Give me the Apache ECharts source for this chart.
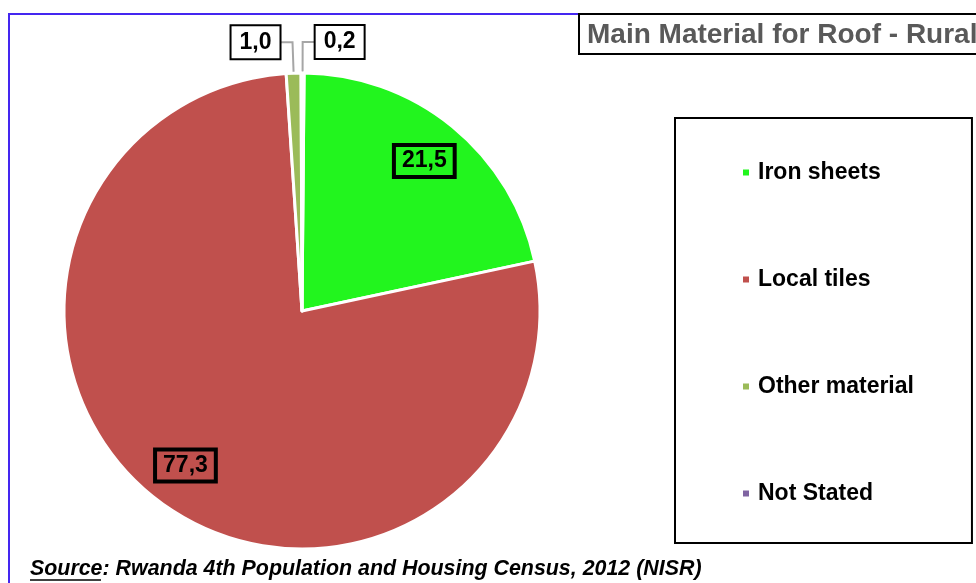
<!DOCTYPE html>
<html>
<head>
<meta charset="utf-8">
<script src="https://cdn.jsdelivr.net/npm/echarts@6/dist/echarts.min.js"></script>
<style>
  html, body { margin: 0; padding: 0; background: #fff; }
  #chart { width: 976px; height: 583px; }
</style>
</head>
<body>
<div id="chart"></div>
<script>
  // data
  const categories = ['Iron sheets', 'Local tiles', 'Other material', 'Not Stated'];
  const values = [21.5, 77.3, 1.0, 0.2];
  const colors = ['#22f51e', '#c0504d', '#9bbb59', '#8064a2'];
  const insideLabels = [true, true, false, false]; // big slices label inside, small outside
  const titleText = 'Main Material for Roof - Rural';
  const sourceLabel = 'Source';
  const sourceText = ': Rwanda 4th Population and Housing Census, 2012 (NISR)';

  const myChart = echarts.init(document.getElementById('chart'));

  const fmt = v => v.toFixed(1).replace('.', ',');
  const center = [302, 311];
  const R = 238;

  let pieData = categories.map((name, i) => ({
    name: name,
    value: values[i],
    itemStyle: { color: colors[i] }
  }));

  // transparent ring only used to place the labels at ~0.8 r
  let labelData = categories.map((name, i) => ({
    name: name,
    value: values[i],
    label: insideLabels[i] ? {
      position: 'inside',
      backgroundColor: 'transparent'
    } : {
      position: 'outside',
      backgroundColor: '#fff'
    },
    labelLine: { show: !insideLabels[i] }
  }));

  let option = {
    backgroundColor: '#fff',
    animation: false,
    title: {
      text: titleText,
      left: 582,
      top: 16,
      textStyle: {
        fontFamily: 'Liberation Sans, Arial',
        fontSize: 28,
        fontWeight: 'bold',
        color: '#595959'
      }
    },
    legend: {
      orient: 'vertical',
      left: 675,
      top: 118,
      padding: [42, 58, 37, 66],
      itemGap: 82,
      itemWidth: 8,
      itemHeight: 8,
      icon: 'rect',
      borderColor: '#000',
      borderWidth: 2,
      selectedMode: false,
      data: categories,
      textStyle: {
        fontFamily: 'Liberation Sans, Arial',
        fontSize: 23,
        fontWeight: 'bold',
        color: '#000',
        lineHeight: 25,
        padding: [0, 0, 0, 3]
      }
    },
    graphic: [
      {
        type: 'rect',
        shape: { x: 9, y: 14, width: 990, height: 600 },
        style: { fill: 'none', stroke: '#4426f0', lineWidth: 2 },
        silent: true
      },
      {
        type: 'rect',
        shape: { x: 579, y: 14, width: 420, height: 40 },
        style: { fill: 'none', stroke: '#000', lineWidth: 2 },
        silent: true,
        z: 10
      },
      {
        type: 'text',
        left: 30,
        top: 559,
        style: {
          text: '{u|' + sourceLabel + '}{n|' + sourceText + '}',
          rich: {
            u: { fontFamily: 'Liberation Sans, Arial', fontSize: 21.4, fontWeight: 'bold', fontStyle: 'italic', fill: '#000' },
            n: { fontFamily: 'Liberation Sans, Arial', fontSize: 21.4, fontWeight: 'bold', fontStyle: 'italic', fill: '#000' }
          }
        }
      },
      {
        type: 'line',
        shape: { x1: 30, y1: 580, x2: 101, y2: 580 },
        style: { stroke: '#000', lineWidth: 1.5 },
        silent: true
      }
    ],
    series: [
      {
        type: 'pie',
        center: center,
        radius: [0, R],
        startAngle: 89.5,
        clockwise: true,
        silent: true,
        label: { show: false },
        labelLine: { show: false },
        itemStyle: { borderColor: '#fff', borderWidth: 3 },
        data: pieData
      },
      {
        type: 'pie',
        center: center,
        radius: [143, R],
        startAngle: 89.5,
        clockwise: true,
        silent: true,
        avoidLabelOverlap: false,
        itemStyle: { color: 'rgba(0,0,0,0)', borderWidth: 0 },
        label: {
          show: true,
          formatter: p => fmt(p.value),
          fontFamily: 'Liberation Sans, Arial',
          fontSize: 23,
          fontWeight: 'bold',
          color: '#000',
          lineHeight: 26,
          padding: [4, 8, 2, 8],
          borderColor: '#000',
          borderWidth: 2,
          distanceToLabelLine: 0
        },
        labelLine: {
          length: 31,
          length2: 13,
          lineStyle: { color: '#a6a6a6', width: 2 }
        },
        data: labelData
      }
    ]
  };

  myChart.setOption(option);
</script>
</body>
</html>
